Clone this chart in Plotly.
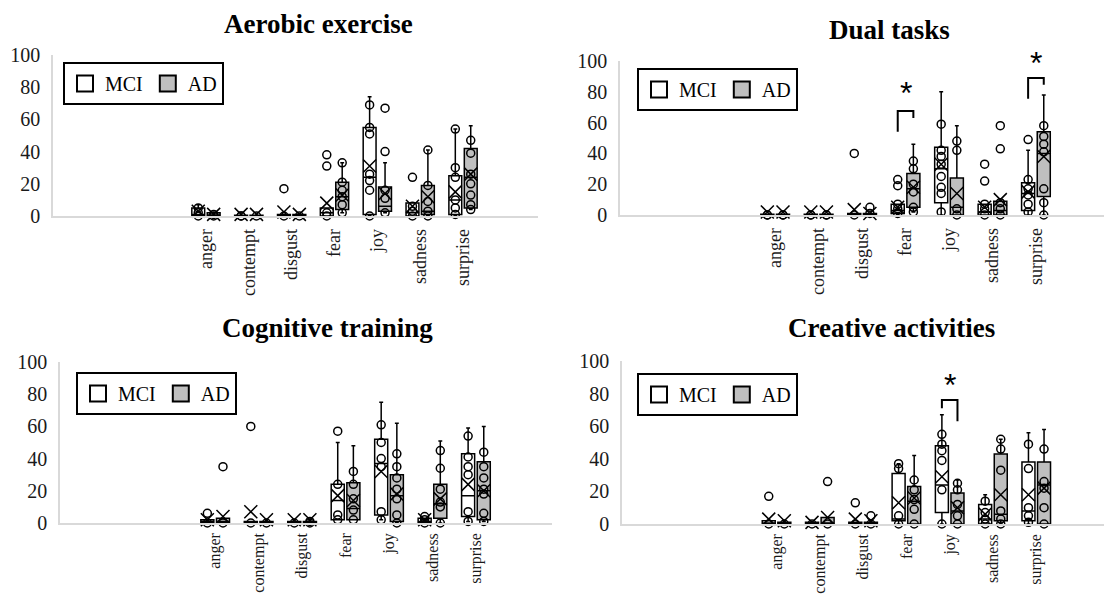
import plotly.graph_objects as go

CATEGORIES = ["anger", "contempt", "disgust", "fear", "joy", "sadness", "surprise"]
GROUPS = ["MCI", "AD"]
PANEL_TITLES = ["Aerobic exercise", "Dual tasks", "Cognitive training", "Creative activities"]
Y_TICKS = [0, 20, 40, 60, 80, 100]

# per category: [lower whisker, Q1, median, Q3, upper whisker, mean]
aerobic_mci_stats = [[0, 0, 1, 5, 7, 3], [0, 0, 0, 0.5, 0.5, 1], [0, 0, 0, 1, 1, 2.5],
                     [0, 0, 2, 5, 5, 8], [0, 1, 24, 55, 74, 31], [0, 0, 2, 8, 8, 6],
                     [0, 1, 10, 25, 54, 15]]
aerobic_ad_stats = [[0, 0, 0, 2, 2, 1], [0, 0, 0, 0.5, 0.5, 1], [0, 0, 0, 1, 1, 1],
                    [2, 4, 12, 21, 33, 13], [2, 3, 6, 18, 33, 14], [0, 1, 3, 19, 41, 12],
                    [4, 5, 24, 42, 56, 26]]
aerobic_mci_points = [[0, 2, 5], [0, 0], [0, 17], [0, 2, 31, 38], [0, 16, 22, 26, 51, 55, 69],
                      [0, 3, 6, 24], [1, 5, 10, 24, 30, 54]]
aerobic_ad_points = [[0, 1], [0], [0], [2, 7, 12, 16, 21, 33], [2, 11, 16, 40, 67],
                     [0, 3, 9, 19, 41], [4, 7, 13, 20, 26, 39, 47]]

dual_mci_stats = [[0, 0, 0, 0.5, 0.5, 2], [0, 0, 0, 0.5, 0.5, 2], [0, 0, 0, 1, 1, 3.5],
                  [0, 1, 3, 7, 7, 5], [0, 8, 30, 44, 80, 33], [0, 0, 2, 7, 7, 5],
                  [0, 3, 14, 21, 42, 15]]
dual_ad_stats = [[0, 0, 0, 0.5, 0.5, 2], [0, 0, 0, 0.5, 0.5, 2], [0, 0, 0, 1, 1, 1],
                 [2, 5, 17, 27, 46, 18], [0, 0, 5, 24, 58, 14], [0, 0, 3, 9, 9, 10],
                 [0, 12, 40, 54, 78, 38]]
dual_mci_points = [[0, 0], [0, 0], [0, 40], [1, 4, 7, 19, 23], [2, 14, 18, 25, 33, 38, 42, 59],
                   [0, 4, 7, 22, 33], [2, 7, 13, 17, 23, 49]]
dual_ad_points = [[0, 0], [0, 0], [1, 5], [2, 5, 15, 20, 30, 35], [0, 4, 42, 48],
                  [0, 4, 8, 43, 58], [0, 8, 17, 41, 46, 51, 58]]

cognitive_mci_stats = [[0, 0, 1, 2, 2, 2], [0, 0, 0, 1, 1, 7], [0, 0, 0, 1, 1, 2],
                       [2, 2, 14, 24, 50, 17], [2, 5, 37, 52, 75, 32], [0, 0, 1, 3, 3, 2],
                       [1, 4, 17, 43, 59, 24]]
cognitive_ad_stats = [[0, 0, 1, 3, 3, 4], [0, 0, 0, 1, 1, 2], [0, 0, 0, 1, 1, 2],
                      [2, 2, 9, 25, 48, 14], [0, 1, 17, 30, 62, 18], [0, 3, 12, 24, 51, 15],
                      [1, 2, 20, 38, 60, 20]]
cognitive_mci_points = [[0, 6], [0, 60], [0], [2, 5, 24, 57], [2, 7, 35, 40, 50, 61],
                        [0, 2, 4], [1, 7, 30, 35, 41, 54]]
cognitive_ad_points = [[0, 35], [0], [0, 1], [2, 8, 15, 24, 32], [0, 5, 15, 21, 28, 35, 43],
                       [0, 10, 13, 21, 34, 45], [1, 6, 18, 21, 28, 35, 44]]

creative_mci_stats = [[0, 0, 0, 2, 2, 3], [0, 0, 0, 1, 1, 1], [0, 0, 0, 1, 1, 3],
                      [0, 2, 3, 31, 37, 13], [0, 7, 24, 48, 67, 29], [0, 0, 3, 12, 18, 6],
                      [0, 2, 8, 38, 56, 18]]
creative_ad_stats = [[0, 0, 0, 1, 1, 2], [0, 0, 0, 4, 4, 4], [0, 0, 0, 1, 1, 2],
                     [0, 0, 14, 23, 42, 16], [0, 0, 8, 19, 27, 10], [0, 2, 6, 43, 52, 18],
                     [0, 0, 24, 38, 58, 22]]
creative_mci_points = [[0, 17], [0], [0, 13], [0, 5, 34, 37], [0, 21, 39, 45, 49, 55],
                       [0, 3, 7, 14], [1, 5, 10, 34, 49]]
creative_ad_points = [[0], [0, 26], [0, 5], [0, 9, 15, 21, 27], [0, 5, 12, 21, 25],
                      [0, 3, 8, 33, 46, 52], [0, 10, 22, 26, 46]]

# significance markers: category, left-leg bottom, bracket top, right-leg bottom, star height
dual_sig_categories = ["fear", "surprise"]
dual_sig_left = [54, 75.5]
dual_sig_top = [67.5, 89]
dual_sig_right = [63, 84.5]
dual_sig_star = [79, 99]
creative_sig_categories = ["joy"]
creative_sig_left = [71]
creative_sig_top = [76]
creative_sig_right = [63]
creative_sig_star = [85]

# ---------------------------------------------------------------- layout geometry
# The page places the figure 8 px from the top-left corner (default body margin),
# so the figure is 8 px smaller and screen positions are converted accordingly.
PAGE_OFFSET = 8
W, H = 1104, 588
FONT = "Liberation Serif"
FILLS = {"MCI": "white", "AD": "#bfbfbf"}
OFFSETS = {"MCI": -0.18, "AD": 0.18}
X_RANGE = [-3.57, 7.75]


def fx(px):
    return (px - PAGE_OFFSET) / W


def fy(py):
    return 1 - (py - PAGE_OFFSET) / H


panels = [
    dict(title=PANEL_TITLES[0], stats=(aerobic_mci_stats, aerobic_ad_stats),
         points=(aerobic_mci_points, aerobic_ad_points), sig=None, catsize=18, catpad=4,
         xpx=(53, 538), ypx=(55, 216), title_xy=(318, 24), legend_xy=(63, 62)),
    dict(title=PANEL_TITLES[1], stats=(dual_mci_stats, dual_ad_stats),
         points=(dual_mci_points, dual_ad_points), catsize=18, catpad=4,
         sig=(dual_sig_categories, dual_sig_left, dual_sig_top, dual_sig_right, dual_sig_star),
         xpx=(620, 1112), ypx=(61, 215), title_xy=(889, 30), legend_xy=(637, 68)),
    dict(title=PANEL_TITLES[2], stats=(cognitive_mci_stats, cognitive_ad_stats),
         points=(cognitive_mci_points, cognitive_ad_points), sig=None, catsize=16, catpad=2,
         xpx=(60, 552), ypx=(362, 523), title_xy=(327, 328), legend_xy=(76, 372)),
    dict(title=PANEL_TITLES[3], stats=(creative_mci_stats, creative_ad_stats),
         points=(creative_mci_points, creative_ad_points), catsize=16, catpad=2,
         sig=(creative_sig_categories, creative_sig_left, creative_sig_top,
              creative_sig_right, creative_sig_star),
         xpx=(622, 1112), ypx=(361, 524), title_xy=(891, 328), legend_xy=(637, 373)),
]

fig = go.Figure()
annotations = []
layout = dict(width=W, height=H, margin=dict(l=0, r=0, t=0, b=0, autoexpand=False),
              paper_bgcolor="white", plot_bgcolor="white", showlegend=True)

for k, p in enumerate(panels, start=1):
    xa = "x" if k == 1 else f"x{k}"
    ya = "y" if k == 1 else f"y{k}"
    leg = "legend" if k == 1 else f"legend{k}"
    idx = list(range(len(CATEGORIES)))

    for g, group in enumerate(GROUPS):
        st = p["stats"][g]
        pos = [i + OFFSETS[group] for i in idx]
        fig.add_trace(go.Box(
            x=pos, lowerfence=[s[0] for s in st], q1=[s[1] for s in st],
            median=[s[2] for s in st], q3=[s[3] for s in st], upperfence=[s[4] for s in st],
            width=0.3, whiskerwidth=0.3, boxpoints=False, fillcolor=FILLS[group],
            line=dict(color="black", width=1.5), showlegend=False, hoverinfo="skip",
            xaxis=xa, yaxis=ya))
        # mean markers
        fig.add_trace(go.Scatter(
            x=pos, y=[s[5] for s in st], mode="markers", cliponaxis=False,
            marker=dict(symbol="x-thin-open", size=13, color="black",
                        line=dict(color="black", width=1.5)),
            showlegend=False, hoverinfo="skip", xaxis=xa, yaxis=ya))
        # individual points
        px_, py_ = [], []
        for i, pts in zip(idx, p["points"][g]):
            for v in pts:
                px_.append(i + OFFSETS[group])
                py_.append(v)
        fig.add_trace(go.Scatter(
            x=px_, y=py_, mode="markers", cliponaxis=False,
            marker=dict(symbol="circle-open", size=8, color="black",
                        line=dict(color="black", width=1.5)),
            showlegend=False, hoverinfo="skip", xaxis=xa, yaxis=ya))
        # legend entry
        fig.add_trace(go.Scatter(
            x=[None], y=[None], mode="markers", name=group, legend=leg,
            marker=dict(symbol="square", size=16, color=FILLS[group],
                        line=dict(color="black", width=2)),
            xaxis=xa, yaxis=ya))

    if p["sig"]:
        cats, lefts, tops, rights, stars = p["sig"]
        for c, yl, yt, yr, ys in zip(cats, lefts, tops, rights, stars):
            i = CATEGORIES.index(c)
            xl, xr = i + OFFSETS["MCI"], i + OFFSETS["AD"]
            fig.add_trace(go.Scatter(
                x=[xl, xl, xr, xr], y=[yl, yt, yt, yr], mode="lines",
                line=dict(color="black", width=2), showlegend=False, hoverinfo="skip",
                xaxis=xa, yaxis=ya, cliponaxis=False))
            annotations.append(dict(x=i, y=ys, xref=xa, yref=ya, text="*", showarrow=False,
                                    font=dict(family="Liberation Sans", size=32, color="black"),
                                    xanchor="center", yanchor="middle"))

    x0, x1 = p["xpx"]
    ytop, ybot = p["ypx"]
    layout["xaxis" if k == 1 else f"xaxis{k}"] = dict(
        domain=[fx(x0), min(1.0, fx(x1))], range=X_RANGE, anchor=ya, automargin=False,
        tickmode="array", tickvals=idx, ticktext=CATEGORIES, tickangle=-90,
        tickfont=dict(family=FONT, size=p["catsize"], color="#1a1a1a"), ticks="",
        showline=True, linecolor="#d9d9d9", linewidth=1.5, showgrid=False, zeroline=False,
        ticklabelstandoff=p["catpad"])
    layout["yaxis" if k == 1 else f"yaxis{k}"] = dict(
        domain=[fy(ybot), fy(ytop)], range=[0, 100], anchor=xa, automargin=False,
        tickmode="array", tickvals=Y_TICKS,
        tickfont=dict(family=FONT, size=20, color="#1a1a1a"), ticks="",
        showline=True, linecolor="#d9d9d9", linewidth=1.5, showgrid=False, zeroline=False,
        ticklabelstandoff=7)
    lx, ly = p["legend_xy"]
    layout[leg] = dict(x=fx(lx), y=fy(ly), xanchor="left", yanchor="top",
                       orientation="h", bordercolor="black", borderwidth=2, bgcolor="white",
                       font=dict(family=FONT, size=20, color="black"),
                       itemsizing="trace", itemclick=False, itemdoubleclick=False)
    tx, ty = p["title_xy"]
    annotations.append(dict(x=fx(tx), y=fy(ty), xref="paper", yref="paper",
                            text=f"<b>{p['title']}</b>", showarrow=False,
                            font=dict(family=FONT, size=27, color="black"),
                            xanchor="center", yanchor="middle"))

layout["annotations"] = annotations
fig.update_layout(**layout)
fig.write_html("out.html")
